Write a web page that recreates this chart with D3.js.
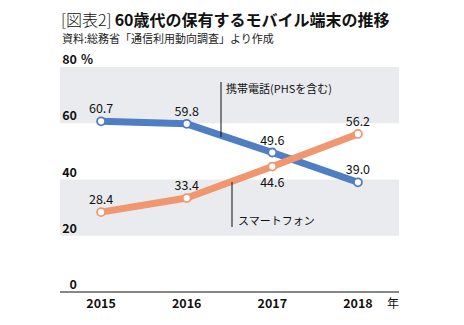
<!DOCTYPE html>
<html>
<head>
<meta charset="utf-8">
<script src="https://cdn.jsdelivr.net/npm/d3@7"></script>
<style>
  body { margin: 0; background: #fff; }
  text { font-family: "Noto Sans CJK JP", "Noto Sans", sans-serif; }
</style>
</head>
<body>
<div id="plot"></div>
<script>
// Data
const years = ["2015", "2016", "2017", "2018"];
const phoneValues = [60.7, 59.8, 49.6, 39.0];
const smartValues = [28.4, 33.4, 44.6, 56.2];
const yTicks = [0, 20, 40, 60, 80];
const bands = [[60, 80], [20, 40]];

const W = 464, H = 325;
const margin = { top: 67, right: 65, bottom: 33, left: 60 },
      width = W - margin.left - margin.right,
      height = H - margin.top - margin.bottom;

const svg = d3.select("#plot")
  .append("svg")
  .attr("width", W)
  .attr("height", H);

// Title
const title = svg.append("text")
  .attr("x", 61)
  .attr("y", 26)
  .style("font-size", "16px")
  .attr("fill", "#111");
title.append("tspan").style("font-weight", "300").text("[図表2]");
title.append("tspan").attr("dx", 3).style("font-weight", "bold").text("60歳代の保有するモバイル端末の推移");

svg.append("text")
  .attr("x", 62)
  .attr("y", 43)
  .style("font-size", "11px")
  .attr("fill", "#222")
  .text("資料:総務省「通信利用動向調査」より作成");

const g = svg.append("g")
  .attr("transform", `translate(${margin.left}, ${margin.top})`);

const x = d3.scalePoint()
  .domain(years)
  .range([0, width])
  .padding(0.48);

const y = d3.scaleLinear()
  .domain([0, 80])
  .range([height, 0]);

// Grey bands
g.selectAll("rect.band")
  .data(bands)
  .enter()
  .append("rect")
  .attr("class", "band")
  .attr("x", 0)
  .attr("width", width)
  .attr("y", d => y(d[1]))
  .attr("height", d => y(d[0]) - y(d[1]))
  .attr("fill", "#e9ebee");

// Baseline
g.append("line")
  .attr("x1", 0).attr("x2", width)
  .attr("y1", y(0)).attr("y2", y(0))
  .attr("stroke", "#111")
  .attr("stroke-width", 1.2);

// Y tick labels
g.selectAll("text.ytick")
  .data(yTicks)
  .enter()
  .append("text")
  .attr("class", "ytick")
  .attr("x", 17)
  .attr("y", d => y(d) - 3)
  .attr("text-anchor", "end")
  .style("font-size", "12.5px")
  .style("font-weight", "bold")
  .attr("fill", "#111")
  .text(d => d);

g.append("text")
  .attr("x", 21)
  .attr("y", y(80) - 3)
  .style("font-size", "12.5px")
  .style("font-weight", "bold")
  .attr("fill", "#111")
  .text("%");

// X axis labels
g.selectAll("text.xtick")
  .data(years)
  .enter()
  .append("text")
  .attr("class", "xtick")
  .attr("x", d => x(d))
  .attr("y", height + 16)
  .attr("text-anchor", "middle")
  .style("font-size", "12.5px")
  .style("font-weight", "bold")
  .attr("fill", "#111")
  .text(d => d);

g.append("text")
  .attr("x", width - 6)
  .attr("y", height + 16)
  .attr("text-anchor", "middle")
  .style("font-size", "12px")
  .attr("fill", "#111")
  .text("年");

const line = d3.line()
  .x((d, i) => x(years[i]))
  .y(d => y(d));

const series = [
  { name: "phone", values: phoneValues, color: "#4f7ec3", labelDy: [-8, -8, -8, -8] },
  { name: "smart", values: smartValues, color: "#f0976f", labelDy: [-8, -8, 20, -8] }
];

series.forEach(s => {
  g.append("path")
    .datum(s.values)
    .attr("d", line)
    .attr("fill", "none")
    .attr("stroke", s.color)
    .attr("stroke-width", 7)
    .attr("stroke-linejoin", "round");
});

series.forEach(s => {
  g.selectAll(`circle.${s.name}`)
    .data(s.values)
    .enter()
    .append("circle")
    .attr("class", s.name)
    .attr("cx", (d, i) => x(years[i]))
    .attr("cy", d => y(d))
    .attr("r", 4)
    .attr("fill", "#fff")
    .attr("stroke", s.color)
    .attr("stroke-width", 1.8);

  g.selectAll(`text.${s.name}`)
    .data(s.values)
    .enter()
    .append("text")
    .attr("class", s.name)
    .attr("x", (d, i) => x(years[i]))
    .attr("y", (d, i) => y(d) + s.labelDy[i])
    .attr("text-anchor", "middle")
    .style("font-size", "12.5px")
    .attr("fill", "#111")
    .text(d => d.toFixed(1));
});

// Annotations
g.append("line")
  .attr("x1", 161).attr("x2", 161)
  .attr("y1", 15).attr("y2", 70)
  .attr("stroke", "#111").attr("stroke-width", 1);
g.append("text")
  .attr("x", 166)
  .attr("y", 26)
  .style("font-size", "11px")
  .attr("fill", "#111")
  .text("携帯電話(PHSを含む)");

g.append("line")
  .attr("x1", 172).attr("x2", 172)
  .attr("y1", 115).attr("y2", 160)
  .attr("stroke", "#111").attr("stroke-width", 1);
g.append("text")
  .attr("x", 178)
  .attr("y", 158)
  .style("font-size", "11px")
  .attr("fill", "#111")
  .text("スマートフォン");
</script>
</body>
</html>
